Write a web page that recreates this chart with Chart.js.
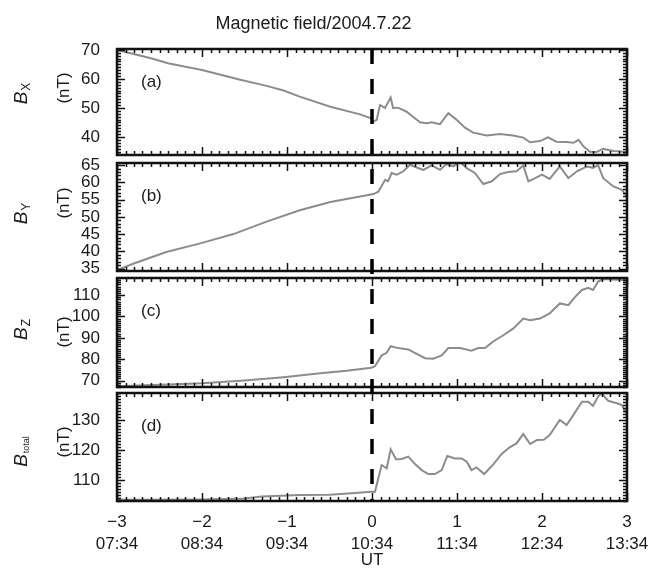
<!doctype html>
<html lang="en">
<head>
    <meta charset="utf-8">
    <title>Magnetic field/2004.7.22</title>
    <script src="https://cdn.jsdelivr.net/npm/chart.js"></script>
    <style>
        body { margin: 0; background: #fff; }
        #wrap { position: relative; width: 651px; height: 571px; }
        #wrap canvas { position: absolute; left: 0; top: 0; }
    </style>
</head>
<body>
<div id="wrap">
    <canvas id="bx" width="651" height="571"></canvas>
    <canvas id="by" width="651" height="571"></canvas>
    <canvas id="bz" width="651" height="571"></canvas>
    <canvas id="bt" width="651" height="571"></canvas>
</div>

<script>
    // hours relative to 10:34 UT
    const xTickHours = [-3, -2, -1, 0, 1, 2, 3];
    const xTickTimes = ['07:34', '08:34', '09:34', '10:34', '11:34', '12:34', '13:34'];

    // (a) Bx
    const bxTime = [-3, -2.6, -2.4, -2.15, -2.0, -1.55, -1.24, -1.04, -0.85, -0.49, -0.14, -0.01,
        0.012, 0.055, 0.094, 0.153, 0.22, 0.247, 0.306, 0.408, 0.482, 0.565, 0.643, 0.702, 0.8, 0.898,
        0.996, 1.094, 1.19, 1.35, 1.506, 1.66, 1.78, 1.86, 1.976, 2.07, 2.17, 2.29, 2.37, 2.43, 2.49,
        2.565, 2.64, 2.72, 2.84, 3.0];
    const bxValues = [70, 67.1, 65.4, 63.9, 63.1, 59.7, 57.6, 56.0, 53.9, 50.4, 47.8, 46.4,
        45.3, 45.9, 51.0, 50.0, 53.6, 50.0, 50.1, 48.7, 47.0, 45.1, 44.7, 45.1, 44.4, 48.2,
        45.9, 43.2, 41.5, 40.5, 41.0, 40.5, 39.8, 38.2, 38.6, 39.9, 38.4, 38.3, 38.0, 39.0, 36.7,
        34.9, 34.8, 35.9, 35.2, 34.8];

    // (b) By
    const byTime = [-3, -2.81, -2.42, -2.02, -1.63, -1.24, -0.85, -0.49, -0.14, 0.016, 0.075, 0.153,
        0.19, 0.23, 0.29, 0.37, 0.447, 0.526, 0.604, 0.702, 0.8, 0.878, 0.957, 1.035, 1.114, 1.21,
        1.31, 1.41, 1.506, 1.6, 1.7, 1.78, 1.84, 1.92, 2.0, 2.09, 2.21, 2.31, 2.41, 2.53, 2.6, 2.66,
        2.72, 2.84, 2.94, 3.0];
    const byValues = [34.6, 36.4, 39.8, 42.3, 45.0, 48.6, 51.9, 54.3, 55.9, 56.6, 57.3, 60.7,
        60.3, 62.7, 62.2, 63.2, 65.1, 64.3, 63.6, 64.9, 63.6, 65.3, 64.6, 65.9, 64.1, 62.7,
        59.5, 60.3, 62.4, 63.0, 63.2, 64.9, 60.3, 61.2, 62.2, 61.0, 64.6, 61.2, 63.2, 64.6, 64.2, 65.0,
        61.2, 58.8, 57.8, 55.9];

    // (c) Bz
    const bzTime = [-3, -2.5, -2.0, -1.5, -1.04, -0.61, -0.3, -0.01, 0.035, 0.114, 0.173, 0.22, 0.31,
        0.427, 0.526, 0.624, 0.72, 0.82, 0.898, 1.035, 1.17, 1.25, 1.33, 1.43, 1.545, 1.66, 1.78,
        1.86, 1.976, 2.09, 2.21, 2.31, 2.39, 2.47, 2.545, 2.6, 2.66, 2.72, 3.0];
    const bzValues = [67.4, 68.0, 68.7, 70.0, 71.6, 73.4, 74.6, 76.0, 76.7, 81.8, 83.0, 86.1, 85.2,
        84.6, 82.5, 80.5, 80.2, 81.8, 85.2, 85.2, 84.0, 85.2, 85.2, 88.4, 91.2, 94.3, 99.0,
        98.2, 99.0, 101.4, 106.1, 105.3, 109.2, 112.4, 113.4, 112.4, 116.3, 117.5, 117.0];

    // (d) Btotal
    const btTime = [-3, -2.0, -1.5, -1.3, -0.85, -0.5, -0.2, -0.01, 0.035, 0.114, 0.173, 0.22, 0.282,
        0.35, 0.427, 0.506, 0.585, 0.662, 0.74, 0.82, 0.886, 0.976, 1.055, 1.114, 1.17, 1.23, 1.32,
        1.43, 1.525, 1.62, 1.70, 1.78, 1.86, 1.94, 2.02, 2.09, 2.21, 2.29, 2.37, 2.47, 2.545, 2.6,
        2.66, 2.7, 2.78, 2.88, 2.94, 3.0];
    const btValues = [103.4, 103.5, 103.8, 104.5, 105.0, 105.1, 105.7, 106.1, 106.1, 115.0, 113.9, 120.2, 116.9,
        117.0, 117.8, 115.3, 113.3, 112.0, 112.0, 113.3, 118.0, 117.2, 117.2, 116.1, 113.3, 114.2, 112.0,
        115.3, 118.7, 120.9, 122.2, 125.3, 122.0, 123.3, 123.4, 125.0, 130.0, 128.3, 131.7, 136.1, 136.1, 134.7,
        137.8, 138.9, 136.4, 135.6, 135.0, 131.7];

    const yTicksBx = [40, 50, 60, 70];
    const yTicksBy = [35, 40, 45, 50, 55, 60, 65];
    const yTicksBz = [70, 80, 90, 100, 110];
    const yTicksBt = [110, 120, 130];

    const FONT = '"Liberation Sans", Arial, sans-serif';
    Chart.defaults.font.family = FONT;
    Chart.defaults.font.size = 17;
    Chart.defaults.color = '#1a1a1a';

    // frame, inward ticks (major + minor) and the rotated axis labels
    const frameTicks = {
        id: 'frameTicks',
        afterDatasetsDraw(chart, args, opts) {
            const {ctx, chartArea: a, scales: {x, y}} = chart;
            ctx.save();
            ctx.strokeStyle = '#111';
            ctx.beginPath();
            for (let i = -30; i <= 30; i++) {
                const px = Math.round(x.getPixelForValue(i / 10)) + 0.5;
                const len = i % 10 === 0 ? 8 : 4;
                ctx.moveTo(px, a.top); ctx.lineTo(px, a.top + len);
                ctx.moveTo(px, a.bottom); ctx.lineTo(px, a.bottom - len);
            }
            for (let v = Math.ceil(y.min); v <= y.max; v += opts.minor) {
                const py = Math.round(y.getPixelForValue(v)) + 0.5;
                const len = opts.majors.includes(v) ? 8 : 4;
                ctx.moveTo(a.left, py); ctx.lineTo(a.left + len, py);
                ctx.moveTo(a.right, py); ctx.lineTo(a.right - len, py);
            }
            ctx.lineWidth = 1.5;
            ctx.stroke();
            ctx.lineWidth = 2.5;
            ctx.strokeRect(a.left, a.top, a.right - a.left, a.bottom - a.top);

            // y labels, rotated
            ctx.fillStyle = '#1a1a1a';
            ctx.textBaseline = 'middle';
            ctx.textAlign = 'left';
            ctx.save();
            ctx.translate(22, opts.labelY);
            ctx.rotate(-Math.PI / 2);
            ctx.font = 'italic 19px ' + FONT;
            const w1 = ctx.measureText('B').width;
            const subSize = opts.sub.length > 1 ? 9 : 12;
            ctx.font = subSize + 'px ' + FONT;
            const w2 = ctx.measureText(opts.sub).width;
            const x0 = -(w1 + w2) / 2;
            ctx.font = 'italic 19px ' + FONT;
            ctx.fillText('B', x0, 0);
            ctx.font = subSize + 'px ' + FONT;
            ctx.fillText(opts.sub, x0 + w1 + 1, 5);
            ctx.restore();

            ctx.save();
            ctx.translate(64, opts.unitY);
            ctx.rotate(-Math.PI / 2);
            ctx.textAlign = 'center';
            ctx.font = '17px ' + FONT;
            ctx.fillText('(nT)', 0, 0);
            ctx.restore();
            ctx.restore();
        }
    };

    // dashed onset line at t = 0 through all four panels
    const onsetLine = {
        id: 'onsetLine',
        afterDraw(chart, args, opts) {
            if (!opts.on) return;
            const {ctx, chartArea: a, scales: {x}} = chart;
            const top = Chart.getChart('bx').chartArea.top;
            const px = x.getPixelForValue(0);
            ctx.save();
            ctx.strokeStyle = '#000';
            ctx.lineWidth = 3.5;
            ctx.setLineDash([15, 15]);
            ctx.beginPath();
            ctx.moveTo(px, top);
            ctx.lineTo(px, a.bottom);
            ctx.stroke();
            ctx.restore();
        }
    };

    // panel letter in the upper-left corner
    const panelLetter = {
        id: 'panelLetter',
        afterDraw(chart, args, opts) {
            const {ctx, chartArea: a} = chart;
            ctx.save();
            ctx.fillStyle = '#1a1a1a';
            ctx.font = '17px ' + FONT;
            ctx.textBaseline = 'middle';
            ctx.fillText(opts.text, a.left + 24, a.top + 33);
            ctx.restore();
        }
    };

    const panels = [
        {id: 'bx', time: bxTime, values: bxValues, min: 33.8, max: 70.3, ticks: yTicksBx, minor: 1,
            top: 49, bottom: 155, sub: 'X', labelY: 94, unitY: 88, letter: '(a)'},
        {id: 'by', time: byTime, values: byValues, min: 34.3, max: 65.6, ticks: yTicksBy, minor: 1,
            top: 163, bottom: 271, sub: 'Y', labelY: 214, unitY: 203, letter: '(b)'},
        {id: 'bz', time: bzTime, values: bzValues, min: 67, max: 118, ticks: yTicksBz, minor: 1,
            top: 278, bottom: 387, sub: 'Z', labelY: 330, unitY: 332, letter: '(c)'},
        {id: 'bt', time: btTime, values: btValues, min: 103, max: 139, ticks: yTicksBt, minor: 1,
            top: 393, bottom: 501, sub: 'total', labelY: 452, unitY: 442, letter: '(d)'}
    ];

    panels.forEach((p, idx) => {
        const last = idx === panels.length - 1;
        const first = idx === 0;
        new Chart(document.getElementById(p.id), {
            type: 'line',
            data: {
                datasets: [{
                    data: p.time.map((t, i) => ({x: t, y: p.values[i]})),
                    borderColor: '#8c8c8c',
                    borderWidth: 2,
                    pointRadius: 0,
                    tension: 0
                }]
            },
            options: {
                responsive: false,
                animation: false,
                layout: {
                    padding: {
                        left: 0,
                        right: 24,
                        top: first ? 0 : p.top,
                        bottom: last ? 0 : 571 - p.bottom
                    }
                },
                plugins: {
                    legend: {display: false},
                    tooltip: {enabled: false},
                    title: {
                        display: first,
                        text: 'Magnetic field/2004.7.22',
                        font: {size: 18, weight: 'normal'},
                        color: '#1a1a1a',
                        padding: {top: 13, bottom: 14.4}
                    },
                    frameTicks: {minor: p.minor, majors: p.ticks, sub: p.sub, labelY: p.labelY, unitY: p.unitY},
                    onsetLine: {on: last},
                    panelLetter: {text: p.letter}
                },
                scales: {
                    x: {
                        type: 'linear',
                        min: -3,
                        max: 3,
                        display: last,
                        afterBuildTicks: s => { s.ticks = xTickHours.map(v => ({value: v})); },
                        afterFit: s => { if (last) s.height = 70; },
                        grid: {display: false},
                        border: {display: false},
                        ticks: {
                            padding: 2,
                            maxRotation: 0,
                            font: {size: 17, lineHeight: 1.3},
                            callback: v => [(v < 0 ? '\u2212' + (-v) : String(v)), xTickTimes[xTickHours.indexOf(v)]]
                        },
                        title: {display: true, text: 'UT', font: {size: 17}, padding: 0}
                    },
                    y: {
                        min: p.min,
                        max: p.max,
                        afterBuildTicks: s => { s.ticks = p.ticks.map(v => ({value: v})); },
                        afterFit: s => { s.width = 117; },
                        grid: {display: false},
                        border: {display: false},
                        ticks: {padding: 9, autoSkip: false, font: {size: 17}}
                    }
                }
            },
            plugins: [frameTicks, onsetLine, panelLetter]
        });
    });
</script>
</body>
</html>
